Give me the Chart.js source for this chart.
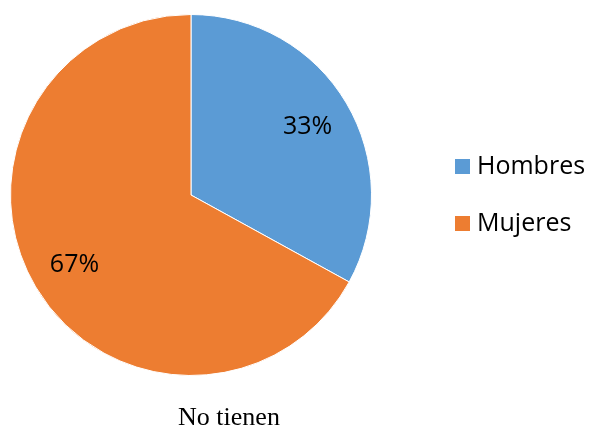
<!DOCTYPE html>
<html>
<head>
<meta charset="utf-8">
<script src="https://cdn.jsdelivr.net/npm/chart.js@4/dist/chart.umd.min.js"></script>
<style>
  html, body { margin: 0; padding: 0; background: #fff; }
  #wrap { width: 590px; height: 430px; position: relative; }
</style>
</head>
<body>
<div id="wrap"><canvas id="pie"></canvas></div>
<script>
"use strict";

const labels = ["Hombres", "Mujeres"];
const values = [33, 67];
const colors = ["#5B9BD5", "#ED7D31"];
const chartTitle = "No tienen";

// percentage text inside each slice
const sliceLabels = {
    id: "sliceLabels",
    afterDatasetsDraw(chart) {
        const ctx = chart.ctx;
        const meta = chart.getDatasetMeta(0);
        const total = values.reduce((a, b) => a + b, 0);
        ctx.save();
        ctx.font = "25px 'Open Sans'";
        ctx.fillStyle = "#000";
        ctx.textAlign = "center";
        ctx.textBaseline = "middle";
        meta.data.forEach((arc, i) => {
            const p = arc.getProps(["x", "y", "startAngle", "endAngle", "outerRadius"], true);
            const mid = (p.startAngle + p.endAngle) / 2;
            const r = p.outerRadius * 0.75;
            const pct = Math.round(values[i] / total * 100) + "%";
            ctx.fillText(pct, p.x + Math.cos(mid) * r, p.y + Math.sin(mid) * r + 1);
        });
        ctx.restore();
    }
};

// legend on the right and the caption below
const sideLegend = {
    id: "sideLegend",
    afterDraw(chart) {
        const ctx = chart.ctx;
        ctx.save();
        ctx.font = "25px 'Open Sans'";
        ctx.textBaseline = "middle";
        ctx.textAlign = "left";
        labels.forEach((name, i) => {
            const y = 167 + i * 57;
            ctx.fillStyle = colors[i];
            ctx.fillRect(455, y - 8, 15, 15);
            ctx.fillStyle = "#000";
            ctx.fillText(name, 477, y);
        });
        ctx.font = "26px 'Liberation Serif'";
        ctx.textAlign = "center";
        ctx.textBaseline = "alphabetic";
        ctx.fillText(chartTitle, 229, 425);
        ctx.restore();
    }
};

new Chart(document.getElementById("pie"), {
    type: "pie",
    data: {
        labels: labels,
        datasets: [{
            data: values,
            backgroundColor: colors,
            borderColor: "#fff",
            borderWidth: 1
        }]
    },
    options: {
        responsive: true,
        maintainAspectRatio: false,
        animation: false,
        layout: {
            padding: { left: 10, right: 218, top: 14, bottom: 54 }
        },
        plugins: {
            legend: { display: false },
            tooltip: { enabled: false }
        }
    },
    plugins: [sliceLabels, sideLegend]
});
</script>
</body>
</html>
